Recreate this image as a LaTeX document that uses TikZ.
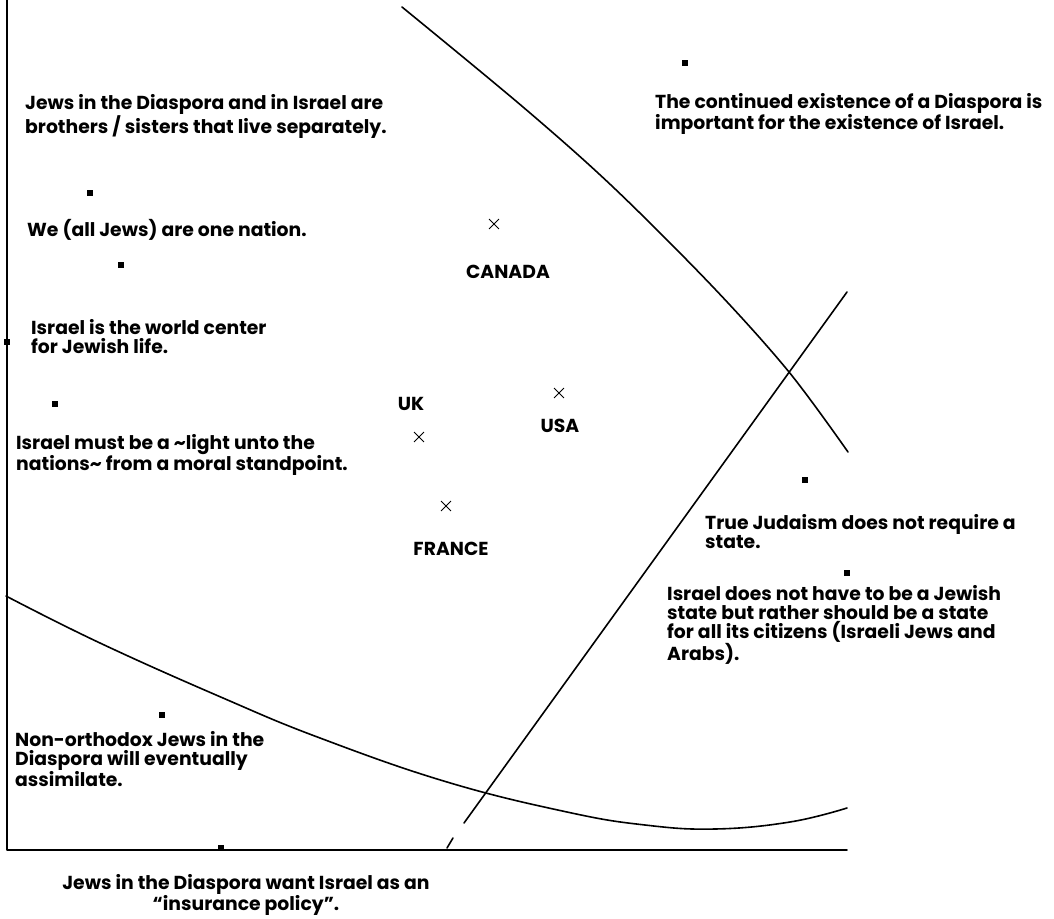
\documentclass[tikz,border=0pt]{standalone}
\usepackage{fontspec}
\setmainfont{Poppins}
\usetikzlibrary{shapes.misc}
\tikzset{
  sq/.style={fill=black, minimum size=5.5pt, inner sep=0pt, outer sep=0pt, shape=rectangle},
  xm/.style={cross out, draw=black, line width=0.9pt, minimum size=9pt, inner sep=0pt},
  txt/.style={font=\bfseries\fontsize{18.8}{19}\selectfont, align=left, anchor=north west, inner sep=0pt},
  ctxt/.style={font=\bfseries\fontsize{18.8}{19}\selectfont, align=center, anchor=north, inner sep=0pt},
  lbl/.style={font=\bfseries\fontsize{18.8}{19}\selectfont, inner sep=0pt},
  ln/.style={line width=1.6pt, line cap=round, line join=round}
}
\begin{document}
\begin{tikzpicture}[x=1pt,y=-1pt]
\useasboundingbox (0,0) rectangle (1054,918);
% axes
\coordinate (top) at (7,0);
\coordinate (orig) at (7,850);
\coordinate (xend) at (847,850);
\draw[ln] (top) -- (orig) -- (xend);
% upper curve
\draw[ln] plot[smooth, tension=0.55] coordinates {(402,7) (523,107) (613,187) (713,287) (789,372) (848,452)};
% lower curve
\draw[ln] plot[smooth, tension=0.7] coordinates {(6,596) (100,643) (223,698) (320,738) (447,782) (567,812) (645,825) (715,829) (790,822) (847,808)};
% straight line with a small gap
\coordinate (sA) at (447,848);
\coordinate (sB) at (453,838);
\coordinate (sC) at (464,823);
\coordinate (sD) at (847,292);
\draw[ln] (sA) -- (sB);
\draw[ln] (sC) -- (sD);
% markers
\node[sq] (m1) at (90,193) {};
\node[sq] (m2) at (121,265) {};
\node[sq] (m3) at (7,342) {};
\node[sq] (m4) at (55,404) {};
\node[sq] (m5) at (685,63) {};
\node[sq] (m6) at (805,480) {};
\node[sq] (m7) at (847,573) {};
\node[sq] (m8) at (162,715) {};
\node[sq] (m9) at (221,848) {};
% crosses
\node[xm] (xc) at (494,224) {};
\node[xm] (xuk) at (419,437) {};
\node[xm] (xus) at (559,393) {};
\node[xm] (xfr) at (446,506) {};
% country labels
\node[lbl] (lc) at (508,272) {CANADA};
\node[lbl] (luk) at (411,404) {UK};
\node[lbl] (lus) at (560,426) {USA};
\node[lbl] (lfr) at (451,549) {FRANCE};
% statements
\node[txt] (t1) at (25,94) {Jews in the Diaspora and in Israel are\\brothers / sisters that live separately.};
\node[txt] (t2) at (27,219) {We (all Jews) are one nation.};
\node[txt] (t3) at (31,319) {Israel is the world center\\for Jewish life.};
\node[txt] (t4) at (16,434) {Israel must be a \textasciitilde light unto the\\nations\textasciitilde{} from a moral standpoint.};
\node[txt] (t5) at (655,93) {The continued existence of a Diaspora is\\important for the existence of Israel.};
\node[txt] (t6) at (705,514) {True Judaism does not require a\\state.};
\node[txt] (t7) at (667,585) {Israel does not have to be a Jewish\\state but rather should be a state\\for all its citizens (Israeli Jews and\\Arabs).};
\node[txt] (t8) at (15,731) {Non-orthodox Jews in the\\Diaspora will eventually\\assimilate.};
\node[ctxt] (t9) at (246,874) {Jews in the Diaspora want Israel as an\\“insurance policy”.};
\end{tikzpicture}
\end{document}
